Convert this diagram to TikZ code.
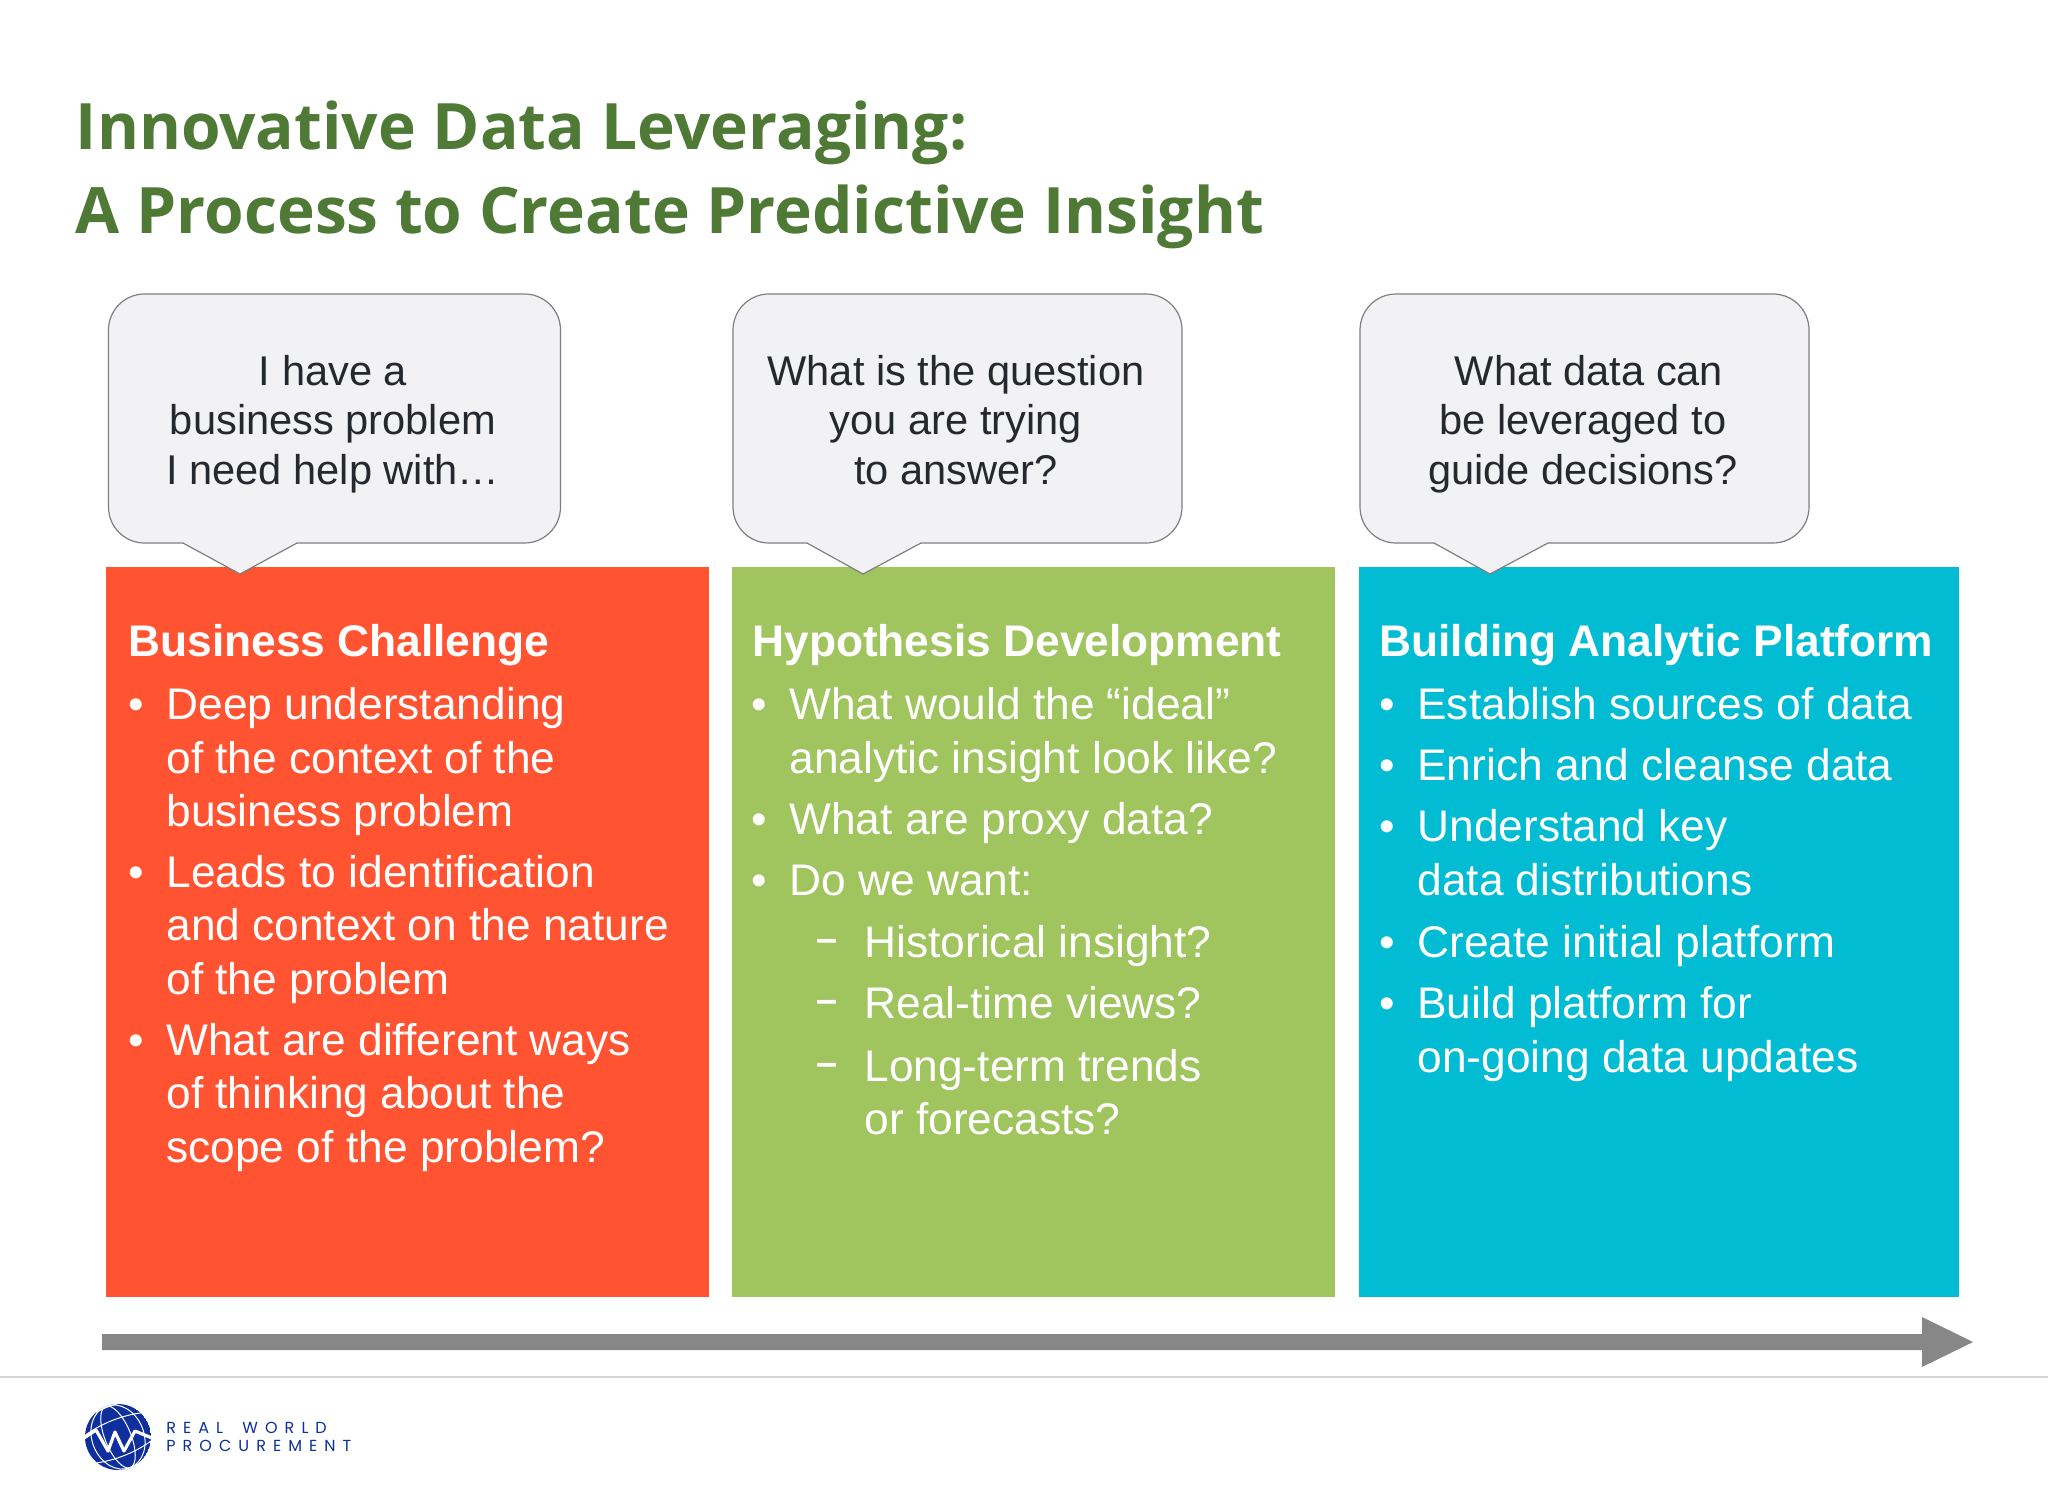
\documentclass[tikz,border=0pt]{standalone}
\usepackage{fontspec}
\setmainfont{Liberation Sans}
\newfontfamily\titlefont{Open Sans}
\newfontfamily\logofont[LetterSpace=44]{Poppins}
\definecolor{titlegreen}{HTML}{4E7A36}
\definecolor{boxred}{HTML}{FF5331}
\definecolor{boxgreen}{HTML}{A0C55F}
\definecolor{boxblue}{HTML}{02BCD4}
\definecolor{calloutfill}{HTML}{F2F2F4}
\definecolor{calloutline}{HTML}{7F7F7F}
\definecolor{calloutink}{HTML}{25292E}
\definecolor{arrowgray}{HTML}{878787}
\definecolor{rulegray}{HTML}{D4D4D4}
\definecolor{logoblue}{HTML}{0E2F9C}
\tikzset{
  x=0.5pt,y=-0.5pt,
  panel/.style={draw=none,inner sep=0pt,minimum width=#1*0.5pt,minimum height=364.75pt,anchor=north west},
  titletext/.style={anchor=base west,inner sep=0pt,text=titlegreen,font=\titlefont\bfseries\fontsize{32}{32}\selectfont},
  callouttext/.style={anchor=base,inner sep=0pt,text=calloutink,font=\fontsize{20.8}{20.8}\selectfont},
  calloutshape/.style={draw=calloutline,fill=calloutfill,line width=0.6pt},
  heading/.style={anchor=base west,inner sep=0pt,text=white,font=\bfseries\fontsize{22.15}{22.15}\selectfont},
  bodyline/.style={anchor=base west,inner sep=0pt,text=white,font=\fontsize{22.15}{22.15}\selectfont},
  dashmark/.style={anchor=base west,inner sep=0pt,text=white,font=\bfseries\fontsize{19}{19}\selectfont},
  logotext/.style={anchor=base west,inner sep=0pt,text=logoblue,font=\logofont\fontsize{8}{8}\selectfont},
}
\newcommand{\speech}[5]{%
  \draw[calloutshape] (#3,543) [rounded corners=18pt] -- (#1,543) -- (#1,294) -- (#2,294) -- (#2,543) [sharp corners] -- (#4,543) -- (#5,574) -- cycle;}
\newcommand{\tx}[5][bodyline]{\node[#1] (#2) at (#3,#4) {#5};}
\begin{document}
\begin{tikzpicture}
\useasboundingbox (0,0) rectangle (2048,1494);
\fill[white] (0,0) rectangle (2048,1494);
% title
\tx[titletext]{t1}{75.5}{149.5}{Innovative Data Leveraging:}
\tx[titletext]{t2}{75.5}{233}{A Process to Create Predictive Insight}
% panels
\node[panel=603,fill=boxred] (p1) at (106,567) {};
\node[panel=603,fill=boxgreen] (p2) at (732,567) {};
\node[panel=600,fill=boxblue] (p3) at (1359,567) {};
% callouts
\speech{108.5}{560.5}{183}{297}{240}
\speech{733}{1182}{807}{921}{863}
\speech{1360}{1809}{1434}{1548}{1490}
\tx[callouttext]{c11}{333}{385}{I have a}
\tx[callouttext]{c12}{333}{434}{business problem}
\tx[callouttext]{c13}{333}{484}{I need help with…}
\tx[callouttext]{c21}{956}{385}{What is the question}
\tx[callouttext]{c22}{956}{434}{you are trying}
\tx[callouttext]{c23}{956}{484}{to answer?}
\tx[callouttext]{c31}{1589}{385}{What data can}
\tx[callouttext]{c32}{1583}{434}{be leveraged to}
\tx[callouttext]{c33}{1583}{484}{guide decisions?}
% red panel
\tx[heading]{r0}{128}{656}{Business Challenge}
\tx{rb1}{128}{719}{•}\tx{r1}{166}{719}{Deep understanding}
\tx{r2}{166}{773}{of the context of the}
\tx{r3}{166}{826}{business problem}
\tx{rb2}{128}{887}{•}\tx{r4}{166}{887}{Leads to identification}
\tx{r5}{166}{940}{and context on the nature}
\tx{r6}{166}{994}{of the problem}
\tx{rb3}{128}{1055}{•}\tx{r7}{166}{1055}{What are different ways}
\tx{r8}{166}{1108}{of thinking about the}
\tx{r9}{166}{1162}{scope of the problem?}
% green panel
\tx[heading]{g0}{752}{656}{Hypothesis Development}
\tx{gb1}{751}{719}{•}\tx{g1}{789}{719}{What would the “ideal”}
\tx{g2}{789}{773}{analytic insight look like?}
\tx{gb2}{751}{834}{•}\tx{g3}{789}{834}{What are proxy data?}
\tx{gb3}{751}{895}{•}\tx{g4}{789}{895}{Do we want:}
\tx[dashmark]{gd1}{816}{951}{–}\tx{g5}{864}{957}{Historical insight?}
\tx[dashmark]{gd2}{816}{1012}{–}\tx{g6}{864}{1018}{Real-time views?}
\tx[dashmark]{gd3}{816}{1075}{–}\tx{g7}{864}{1081}{Long-term trends}
\tx{g8}{864}{1134}{or forecasts?}
% blue panel
\tx[heading]{b0}{1379}{656}{Building Analytic Platform}
\tx{bb1}{1379}{719}{•}\tx{b1}{1417}{719}{Establish sources of data}
\tx{bb2}{1379}{780}{•}\tx{b2}{1417}{780}{Enrich and cleanse data}
\tx{bb3}{1379}{841.5}{•}\tx{b3}{1417}{841.5}{Understand key}
\tx{b4}{1417}{895}{data distributions}
\tx{bb4}{1379}{957}{•}\tx{b5}{1417}{957}{Create initial platform}
\tx{bb5}{1379}{1018}{•}\tx{b6}{1417}{1018}{Build platform for}
\tx{b7}{1417}{1072}{on-going data updates}
% process arrow
\fill[arrowgray] (102,1334) -- (1922,1334) -- (1922,1317) -- (1973,1342) -- (1922,1367) -- (1922,1350) -- (102,1350) -- cycle;
% footer rule
\draw[rulegray,line width=1pt] (0,1377) -- (2048,1377);
% logo globe
\begin{scope}
\clip (118,1437) circle (33);
\fill[logoblue] (118,1437) circle (33);
\begin{scope}[rotate around={22:(118,1437)}]
\draw[white,line width=0.5pt] (118,1437) ellipse (13 and 33);
\draw[white,line width=0.5pt] (118,1437) ellipse (26 and 33);
\draw[white,line width=0.5pt] (85,1424) .. controls (105,1418) and (131,1418) .. (151,1424);
\draw[white,line width=0.5pt] (85,1452) .. controls (105,1458) and (131,1458) .. (151,1452);
\draw[white,line width=0.5pt] (90,1409) .. controls (105,1404) and (131,1404) .. (146,1409);
\draw[white,line width=0.5pt] (90,1466) .. controls (105,1471) and (131,1471) .. (146,1466);
\end{scope}
\draw[white,line width=1.6pt,line join=round] (84,1438) -- (96,1430) -- (108,1451) -- (115,1432) -- (124,1451) -- (135,1431) -- (152,1438);
\end{scope}
\tx[logotext]{l1}{166}{1433}{REAL\hspace{4pt} WORLD}
\tx[logotext]{l2}{166}{1451}{PROCUREMENT}
\end{tikzpicture}
\end{document}
